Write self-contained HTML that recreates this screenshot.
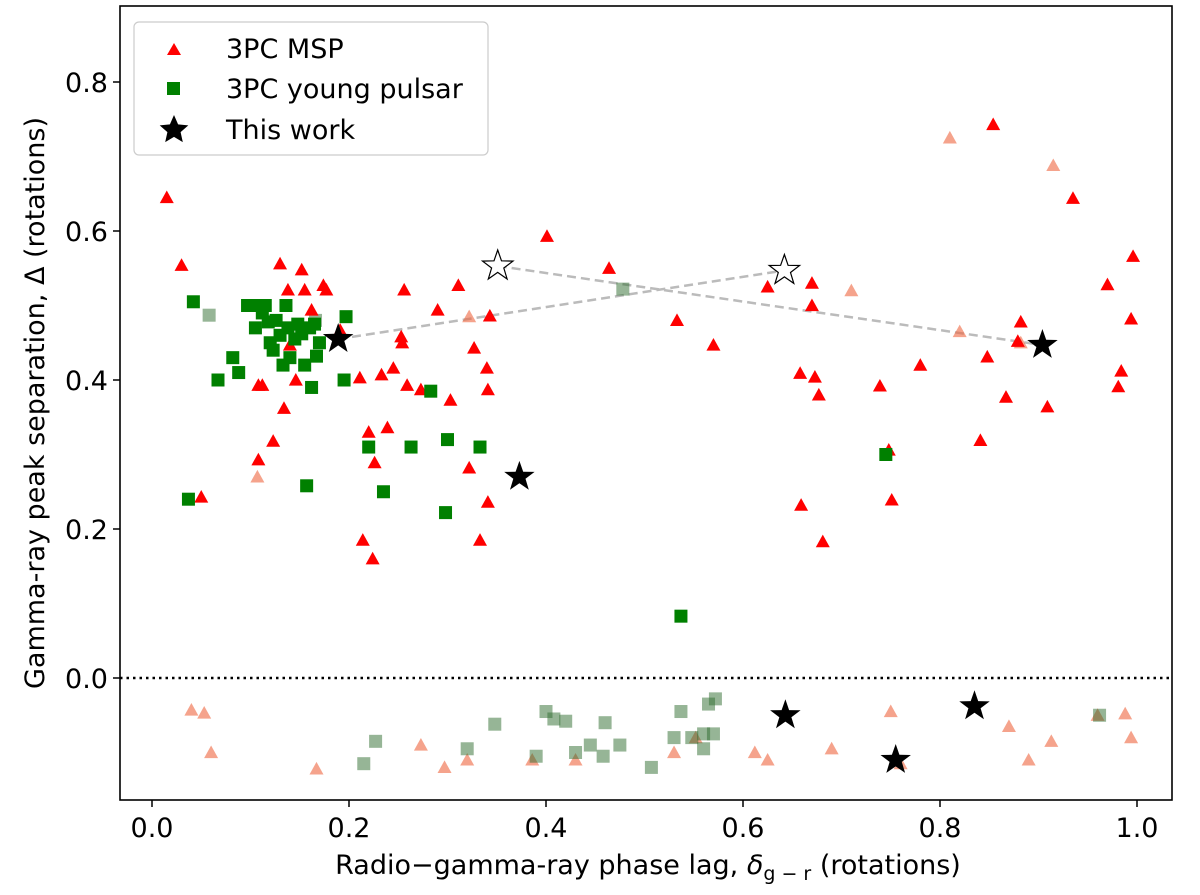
<!DOCTYPE html>
<html><head><meta charset="utf-8">
<style>
html,body{margin:0;padding:0;background:#fff;}
svg text{font-family:"DejaVu Sans","Liberation Sans",sans-serif;}
</style></head>
<body>
<svg id="chart" width="1200" height="890" xmlns="http://www.w3.org/2000/svg">
<rect width="1200" height="890" fill="#fff"/>
<g id="marks"></g>
<g id="axes"></g>
</svg>
<script>
// ---- data ----
const mspX = [.015,.030,.050,.108,.112,.108,.123,.134,.130,.140,.146,.152,.138,.155,.162,.174,.177,.191,.211,.214,.224,.220,.226,.233,.239,.245,.254,.256,.253,.259,.273,.290,.303,.311,.322,.327,.340,.333,.343,.341,.341,.401,.464,.533,.570,.625,.658,.673,.677,.670,.670,.681,.659,.739,.748,.751,.780,.848,.841,.867,.882,.879,.854,.909,.935,.970,.981,.984,.994,.996];
const mspY = [.645,.554,.243,.393,.393,.293,.318,.362,.556,.447,.400,.548,.521,.521,.494,.527,.521,.467,.403,.185,.160,.330,.289,.407,.336,.416,.450,.521,.458,.393,.387,.494,.373,.527,.282,.443,.416,.185,.486,.387,.236,.593,.550,.480,.447,.525,.409,.404,.380,.530,.500,.183,.232,.392,.306,.239,.420,.431,.319,.377,.478,.452,.743,.364,.644,.528,.391,.412,.482,.566];
const mspFadedX = [.107,.322,.710,.810,.820,.915,.882,.04,.053,.06,.167,.273,.297,.32,.386,.43,.53,.552,.612,.625,.69,.76,.75,.87,.89,.913,.96,.988,.994];
const mspFadedY = [.270,.485,.520,.725,.465,.688,.450,-.043,-.047,-.10,-.122,-.09,-.12,-.11,-.11,-.11,-.10,-.08,-.10,-.11,-.095,-.115,-.045,-.065,-.11,-.085,-.05,-.048,-.08];
const youngX = [.037,.042,.067,.082,.088,.097,.100,.105,.108,.112,.115,.118,.120,.123,.126,.130,.133,.136,.138,.140,.145,.148,.152,.155,.160,.162,.165,.167,.170,.195,.197,.220,.235,.263,.283,.298,.300,.333,.157,.537,.745];
const youngY = [.240,.505,.400,.430,.410,.500,.500,.470,.500,.490,.500,.478,.450,.440,.480,.460,.420,.500,.470,.430,.455,.475,.462,.420,.470,.390,.475,.432,.450,.400,.485,.310,.250,.310,.385,.222,.320,.310,.258,.083,.300];
const youngFadedX = [.058,.166,.478,.215,.227,.320,.348,.390,.400,.408,.420,.430,.445,.458,.460,.475,.507,.530,.537,.548,.560,.560,.565,.572,.570,.962];
const youngFadedY = [.487,.480,.522,-.115,-.085,-.095,-.062,-.105,-.045,-.055,-.058,-.100,-.090,-.105,-.060,-.090,-.120,-.080,-.045,-.080,-.095,-.075,-.035,-.028,-.075,-.050];
const starX = [.189,.373,.904,.643,.755,.835];
const starY = [.455,.270,.447,-.050,-.110,-.038];
const openStarX = [.351,.642];
const openStarY = [.553,.547];
const xTicks = [0,0.2,0.4,0.6,0.8,1.0];
const xTickLabels = ["0.0","0.2","0.4","0.6","0.8","1.0"];
const yTicks = [0,0.2,0.4,0.6,0.8];
const yTickLabels = ["0.0","0.2","0.4","0.6","0.8"];

// ---- axes ----
const L=120,R=1172,T=6,B=800;
const sx = v => 152 + v*985;
const sy = v => 678 - v*745;
const NS="http://www.w3.org/2000/svg";
const marks=document.getElementById('marks'), axes=document.getElementById('axes');
function mk(tag, attrs, parent){const e=document.createElementNS(NS,tag);for(const k in attrs)e.setAttribute(k,attrs[k]);parent.appendChild(e);return e;}
function tri(x,y,fill,op){const s=7;return mk('polygon',{points:`${x},${y-s} ${x-s},${y+s*0.8} ${x+s},${y+s*0.8}`,fill:fill,'fill-opacity':op},marks);}
function sq(x,y,fill,op){return mk('rect',{x:x-6.5,y:y-6.5,width:13,height:13,fill:fill,'fill-opacity':op},marks);}
function starPts(x,y,r){let p=[];for(let i=0;i<10;i++){const a=-Math.PI/2+i*Math.PI/5;const rr=i%2?r*0.4:r;p.push((x+rr*Math.cos(a)).toFixed(1)+','+(y+rr*Math.sin(a)).toFixed(1));}return p.join(' ');}

let dl=mk('line',{x1:sx(openStarX[0]),y1:sy(openStarY[0]),x2:sx(starX[2]),y2:sy(starY[2]),stroke:'#bbb','stroke-width':2.5,'stroke-dasharray':'9,5'},marks);


let dl2=mk('line',{x1:sx(starX[0]),y1:sy(starY[0]),x2:sx(openStarX[1]),y2:sy(openStarY[1]),stroke:'#bbb','stroke-width':2.5,'stroke-dasharray':'9,5'},marks);



mspFadedX.forEach((v,i)=>{const e=tri(sx(v),sy(mspFadedY[i]),'#ee6640',0.6);

});
youngFadedX.forEach((v,i)=>{const e=sq(sx(v),sy(youngFadedY[i]),'#2e6b2e',0.5);

});
mspX.forEach((v,i)=>{const e=tri(sx(v),sy(mspY[i]),'#ff0000',1);

});
youngX.forEach((v,i)=>{const e=sq(sx(v),sy(youngY[i]),'#008000',1);

});
starX.forEach((v,i)=>{const e=mk('polygon',{points:starPts(sx(v),sy(starY[i]),16),fill:'#000'},marks);

});
openStarX.forEach((v,i)=>{const e=mk('polygon',{points:starPts(sx(v),sy(openStarY[i]),16),fill:'#fff',stroke:'#000','stroke-width':1.2},marks);

});

let zl=mk('line',{x1:L,y1:sy(0),x2:R,y2:sy(0),stroke:'#000','stroke-width':2.5,'stroke-dasharray':'2.5,4'},axes);



let frame=mk('rect',{x:L,y:T,width:R-L,height:B-T,fill:'none',stroke:'#000','stroke-width':1.6},axes);



xTicks.forEach((v,i)=>{mk('line',{x1:sx(v),y1:B,x2:sx(v),y2:B+7,stroke:'#000','stroke-width':1.5},axes);
const t=mk('text',{x:sx(v),y:B+37,'font-size':27,'text-anchor':'middle',fill:'#000'},axes);t.textContent=xTickLabels[i];

});
yTicks.forEach((v,i)=>{mk('line',{x1:L-7,y1:sy(v),x2:L,y2:sy(v),stroke:'#000','stroke-width':1.5},axes);
const t=mk('text',{x:L-12,y:sy(v)+10,'font-size':27,'text-anchor':'end',fill:'#000'},axes);t.textContent=yTickLabels[i];

});
</script>
<svg style="position:absolute;left:0;top:0" width="1200" height="890" xmlns="http://www.w3.org/2000/svg">
<text x="648" y="874" font-size="27" text-anchor="middle" font-family="DejaVu Sans, Liberation Sans, sans-serif">Radio−gamma-ray phase lag, <tspan font-style="italic">δ</tspan><tspan font-size="19" dy="6">g − r</tspan><tspan dy="-6"> (rotations)</tspan></text>
<text transform="translate(44,403) rotate(-90)" font-size="27" text-anchor="middle" font-family="DejaVu Sans, Liberation Sans, sans-serif">Gamma-ray peak separation, Δ (rotations)</text>
<g>
<rect x="134" y="22" width="354" height="133" rx="5" fill="#fff" fill-opacity="0.85" stroke="#ccc" stroke-width="1.2"/>
<polygon points="174,43 167,55 181,55" fill="#ff0000"/>
<text x="226" y="58" font-size="27" font-family="DejaVu Sans, Liberation Sans, sans-serif">3PC MSP</text>
<rect x="167" y="82" width="13" height="13" fill="#008000"/>
<text x="226" y="98" font-size="27" font-family="DejaVu Sans, Liberation Sans, sans-serif">3PC young pulsar</text>
<polygon points="174,115 178.1,124.4 188.3,125.4 180.6,132.1 182.8,142.1 174,136.9 165.2,142.1 167.4,132.1 159.7,125.4 169.9,124.4" fill="#000"/>
<text x="226" y="139" font-size="27" font-family="DejaVu Sans, Liberation Sans, sans-serif">This work</text>
</g>
</svg>
</body></html>
